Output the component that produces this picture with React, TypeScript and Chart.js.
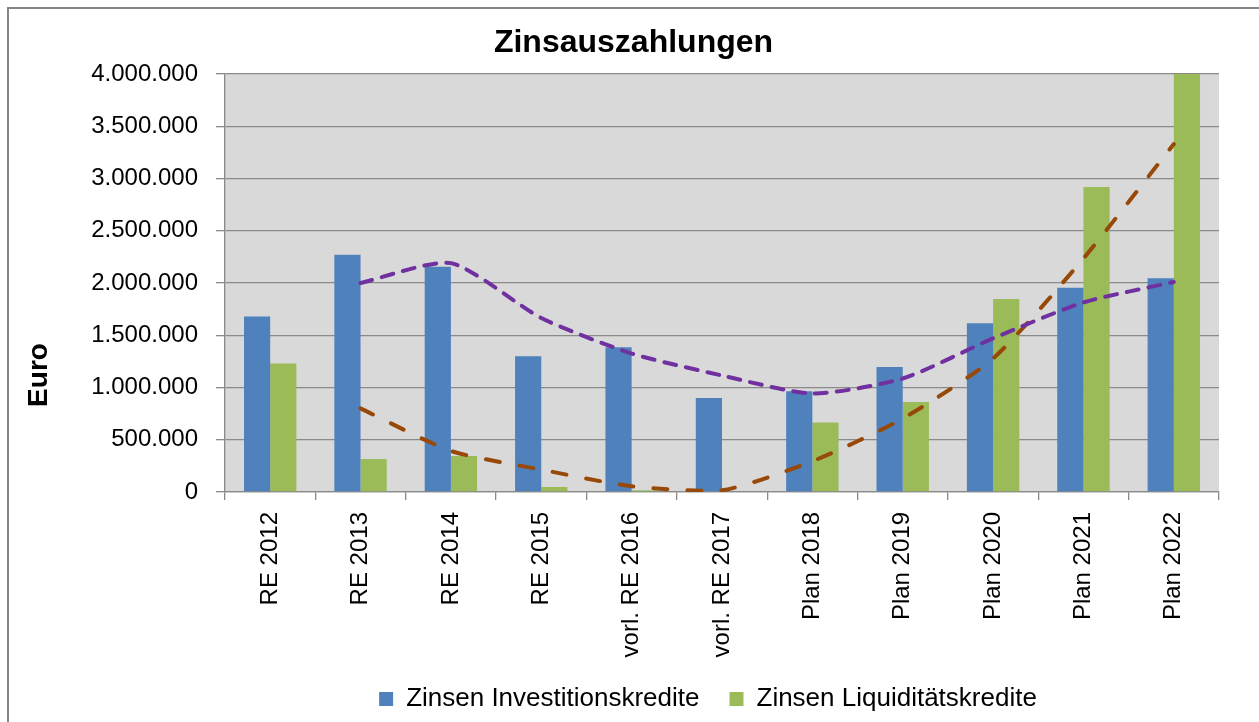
import React, { useEffect, useRef } from 'react';
import { Chart, registerables } from 'chart.js';

Chart.register(...registerables);

const chartTitle = 'Zinsauszahlungen';
const yAxisTitle = 'Euro';
const seriesNames = ['Zinsen Investitionskredite', 'Zinsen Liquiditätskredite'];

const categories = [
  'RE 2012',
  'RE 2013',
  'RE 2014',
  'RE 2015',
  'vorl. RE 2016',
  'vorl. RE 2017',
  'Plan 2018',
  'Plan 2019',
  'Plan 2020',
  'Plan 2021',
  'Plan 2022',
];

const investitionskredite = [1680000, 2270000, 2155000, 1300000, 1385000, 900000, 965000, 1195000, 1615000, 1955000, 2045000];
const liquiditaetskredite = [1230000, 315000, 345000, 48000, 16000, 0, 665000, 862000, 1846000, 2918000, 4000000];

// moving-average trend lines
const trendInvestition = [null, 2000000, 2190000, 1665000, 1325000, 1115000, 942000, 1086000, 1470000, 1814000, 2010000];
const trendLiquiditaet = [null, 800000, 393000, 214000, 55000, 16000, 294000, 703000, 1278000, 2235000, 3330000];

const yMin = 0;
const yMax = 4000000;
const yStep = 500000;

const FONT = '"Liberation Sans", Arial, Helvetica, sans-serif';
const GRID = '#8a8a8a';

function formatDE(v: number): string {
  return String(Math.round(v)).replace(/\B(?=(\d{3})+(?!\d))/g, '.');
}

const plotBg = {
  id: 'plotBg',
  beforeDraw(chart: any) {
    const { ctx, chartArea } = chart;
    if (!chartArea) return;
    ctx.save();
    ctx.fillStyle = '#D9D9D9';
    ctx.fillRect(chartArea.left, chartArea.top, chartArea.right - chartArea.left, chartArea.bottom - chartArea.top);
    ctx.restore();
  },
};

const yTitlePlugin = {
  id: 'yTitlePlugin',
  afterDraw(chart: any) {
    const { ctx } = chart;
    ctx.save();
    ctx.translate(30.5, 366);
    ctx.rotate(-Math.PI / 2);
    ctx.font = `bold 28px ${FONT}`;
    ctx.fillStyle = '#000';
    ctx.textAlign = 'center';
    ctx.textBaseline = 'middle';
    ctx.fillText(yAxisTitle, 0, 0);
    ctx.restore();
  },
};

// Excel centres the title on the whole chart and the legend slightly left of the plot centre
const boxShift = {
  id: 'boxShift',
  afterLayout(chart: any) {
    const l = chart.legend;
    if (l) {
      l.left -= 14;
      l.right -= 14;
      l.top -= 4;
      l.bottom -= 4;
    }
    const t = chart.titleBlock;
    if (t) {
      t.left -= 21.5;
      t.right -= 21.5;
    }
  },
};

export default function App() {
  const canvasRef = useRef<HTMLCanvasElement | null>(null);

  useEffect(() => {
    if (!canvasRef.current) return;
    const chart = new Chart(canvasRef.current, {
      type: 'bar',
      data: {
        labels: categories,
        datasets: [
          {
            type: 'line',
            label: 'Trend Investitionskredite',
            data: trendInvestition,
            borderColor: '#7030A0',
            borderWidth: 4,
            borderDash: [12, 10],
            borderCapStyle: 'round',
            pointRadius: 0,
            tension: 0.22,
            fill: false,
            order: 0,
          },
          {
            type: 'line',
            label: 'Trend Liquiditätskredite',
            data: trendLiquiditaet,
            borderColor: '#984807',
            borderWidth: 4,
            borderDash: [14, 20],
            borderCapStyle: 'round',
            pointRadius: 0,
            tension: 0.22,
            fill: false,
            order: 0,
          },
          {
            type: 'bar',
            label: seriesNames[0],
            data: investitionskredite,
            backgroundColor: '#4F81BD',
            categoryPercentage: 0.58,
            barPercentage: 1.0,
            order: 1,
          },
          {
            type: 'bar',
            label: seriesNames[1],
            data: liquiditaetskredite,
            backgroundColor: '#9BBB59',
            categoryPercentage: 0.58,
            barPercentage: 1.0,
            order: 1,
          },
        ],
      } as any,
      options: {
        responsive: false,
        animation: false,
        events: [],
        layout: { padding: { left: 82, right: 40, top: 0, bottom: 0 } },
        scales: {
          x: {
            offset: true,
            grid: {
              display: true,
              drawOnChartArea: false,
              drawTicks: true,
              tickLength: 8,
              color: GRID,
              lineWidth: 1.3,
              offset: true,
            },
            border: { display: true, color: GRID, width: 1.3 },
            ticks: {
              autoSkip: false,
              maxRotation: 90,
              minRotation: 90,
              padding: 12,
              color: '#000',
              font: { family: FONT, size: 24 },
            },
            afterFit: (scale: any) => {
              scale.height = 168;
            },
          },
          y: {
            min: yMin,
            max: yMax,
            grid: {
              color: GRID,
              lineWidth: 1.3,
              drawTicks: true,
              tickLength: 9,
            },
            border: { display: true, color: GRID, width: 1.3 },
            ticks: {
              stepSize: yStep,
              padding: 18,
              color: '#000',
              font: { family: FONT, size: 24 },
              callback: (v: any) => formatDE(Number(v)),
            },
            afterFit: (scale: any) => {
              scale.width = 134;
            },
          },
        },
        plugins: {
          title: {
            display: true,
            text: chartTitle,
            color: '#000',
            font: { family: FONT, size: 32, weight: 'bold' },
            padding: { top: 14.7, bottom: 11.9 },
          },
          legend: {
            display: true,
            position: 'bottom',
            fullSize: false,
            labels: {
              boxWidth: 14,
              boxHeight: 14,
              padding: 30,
              color: '#000',
              font: { family: FONT, size: 26 },
              filter: (item: any) => item.datasetIndex >= 2,
            },
          },
          tooltip: { enabled: false },
        },
      } as any,
      plugins: [plotBg, yTitlePlugin, boxShift],
    });
    return () => chart.destroy();
  }, []);

  return (
    <div
      style={{
        position: 'fixed',
        left: 7,
        top: 7,
        width: 1300,
        height: 800,
        borderLeft: '2px solid #858585',
        borderTop: '2px solid #858585',
        background: '#fff',
      }}
    >
      <div style={{ position: 'absolute', left: 0, top: 0, width: 1250, height: 717 }}>
        <canvas ref={canvasRef} width={1250} height={717} style={{ display: 'block' }} />
      </div>
    </div>
  );
}
